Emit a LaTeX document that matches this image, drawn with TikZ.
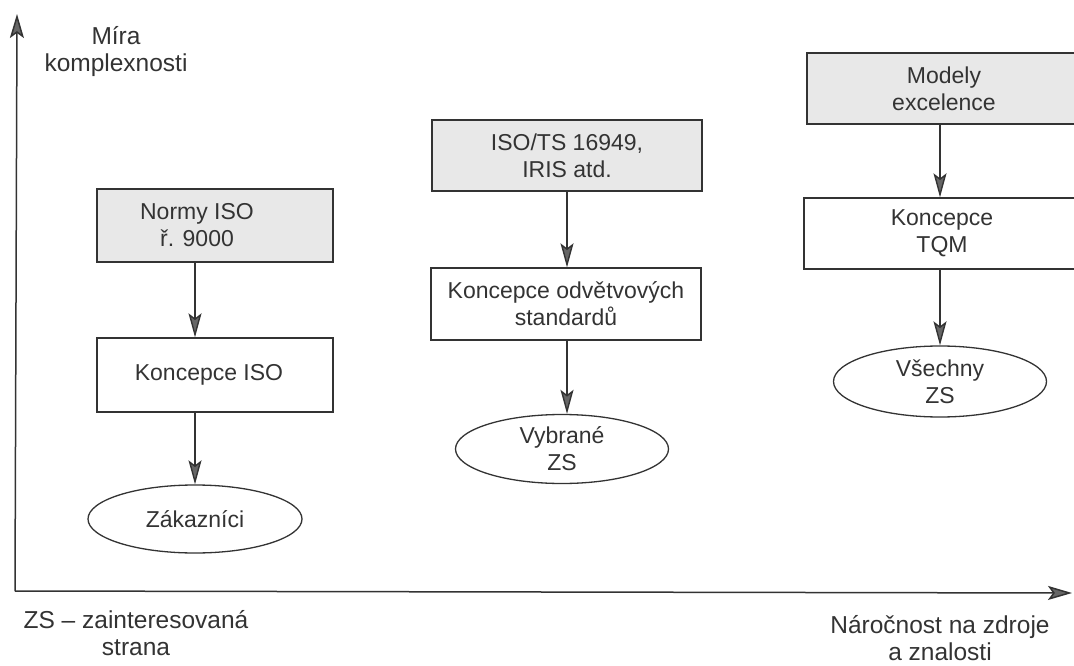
\documentclass[tikz,border=0pt]{standalone}
\usepackage{fontspec}
\setmainfont{Liberation Sans}
\usetikzlibrary{arrows.meta}
\definecolor{ink}{HTML}{333333}
\definecolor{shade}{HTML}{E8E8E8}
\tikzset{
  every node/.style={font=\fontsize{23}{27}\selectfont, text=ink, align=center},
  axlab/.style={font=\fontsize{24.5}{27}\selectfont},
  boxg/.style={draw=ink, line width=1.3pt, fill=shade, rectangle, inner sep=0pt},
  boxw/.style={draw=ink, line width=1.3pt, fill=white, rectangle, inner sep=0pt},
  ell/.style={draw=ink, line width=1.3pt, ellipse, inner sep=0pt},
  arr/.style={draw=ink, line width=1.4pt, -{Stealth[length=24pt,width=13pt,inset=5pt,fill=ink!75]}},
  axis/.style={draw=ink, line width=1.5pt, -{Stealth[length=24pt,width=14pt,inset=5pt,fill=ink!75]}}
}
\usetikzlibrary{shapes.geometric}
\begin{document}
\begin{tikzpicture}[x=1pt,y=-1pt]
\useasboundingbox (0,0) rectangle (1074,666);
\clip (0,0) rectangle (1074,666);
% axes
\coordinate (O) at (15,591);
\coordinate (Y) at (17,14);
\coordinate (X) at (1072,593);
\draw[axis] (O) -- (Y);
\draw[axis] (O) -- (X);
\node[axlab] (ylab) at (116,52) {Míra\\komplexnosti};
\node[axlab] (zs) at (136,633) {ZS – zainteresovaná\\strana};
\node[axlab] (xlab) at (940,638) {Náročnost na zdroje\\a znalosti};
% column 1
\node[boxg, minimum width=236pt, minimum height=73pt,
  label={[xshift=-18pt]center:Normy ISO\\ř. 9000}] (b1) at (215,225.5) {};
\node[boxw, minimum width=236pt, minimum height=74pt,
  label={[xshift=-6pt]center:Koncepce ISO}] (b2) at (215,375) {};
\node[ell, minimum width=214pt, minimum height=68pt] (e1) at (195,519) {Zákazníci};
% column 2
\node[boxg, minimum width=270pt, minimum height=71pt] (b3) at (567,155.5) {ISO/TS 16949,\\IRIS atd.};
\node[boxw, minimum width=270pt, minimum height=72pt] (b4) at (566,304) {Koncepce odvětvových\\standardů};
\node[ell, minimum width=213pt, minimum height=69pt] (e2) at (562,449) {Vybrané\\ZS};
% column 3
\node[boxg, minimum width=274pt, minimum height=71pt] (b5) at (944,88.5) {Modely\\excelence};
\node[boxw, minimum width=276pt, minimum height=71pt] (b6) at (942,233.5) {Koncepce\\TQM};
\node[ell, minimum width=213pt, minimum height=71pt] (e3) at (940,381.5) {Všechny\\ZS};
% connectors
\draw[arr] (b1.south -| e1.north) -- (b2.north -| e1.north);
\draw[arr] (b2.south -| e1.north) -- (e1.north);
\draw[arr] (b3.south) -- (b4.north -| b3.south);
\draw[arr] (b4.south -| b3.south) -- (e2.north -| b3.south);
\draw[arr] (b5.south -| e3.north) -- (b6.north -| e3.north);
\draw[arr] (b6.south -| e3.north) -- (e3.north);
\end{tikzpicture}
\end{document}
